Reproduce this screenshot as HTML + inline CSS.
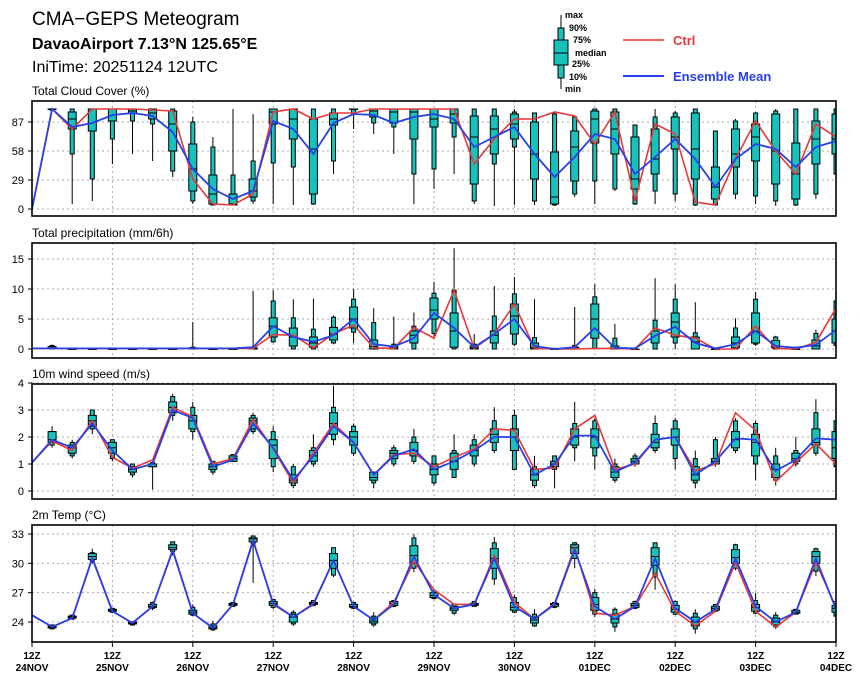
<!DOCTYPE html>
<html><head><meta charset="utf-8"><style>
body{margin:0;background:#fff;width:860px;height:680px;overflow:hidden}
svg{display:block;font-family:"Liberation Sans",sans-serif}
</style></head><body>
<svg id="c" width="860" height="680">
<text x="32" y="25" font-size="19">CMA−GEPS Meteogram</text>
<text x="32" y="49" font-size="16" font-weight="bold">DavaoAirport 7.13°N 125.65°E</text>
<text x="32" y="72" font-size="16">IniTime: 20251124 12UTC</text>
<g font-size="9" font-weight="bold">
<line x1="561" y1="15" x2="561" y2="89" stroke="#000"/>
<rect x="558" y="28" width="6" height="50" fill="#17c2bc" stroke="#000"/>
<rect x="554" y="40" width="14" height="25" fill="#17c2bc" stroke="#000"/>
<line x1="554" y1="53" x2="568" y2="53" stroke="#000"/>
<text x="565" y="18">max</text><text x="569" y="31">90%</text><text x="573" y="43">75%</text>
<text x="575" y="56">median</text><text x="572" y="67">25%</text><text x="569" y="80">10%</text><text x="565" y="92">min</text>
</g>
<line x1="623" y1="40" x2="664" y2="40" stroke="#e83838" stroke-width="1.5"/>
<text x="673" y="45" font-size="13" font-weight="bold" fill="#e83838">Ctrl</text>
<line x1="623" y1="76" x2="664" y2="76" stroke="#2840e8" stroke-width="2"/>
<text x="673" y="81" font-size="13" font-weight="bold" fill="#2840e8">Ensemble Mean</text>
</svg>
<script>
// ===== data =====
const dayLabels=["24NOV","25NOV","26NOV","27NOV","28NOV","29NOV","30NOV","01DEC","02DEC","03DEC","04DEC"];
const cloudTicks=[0,29,58,87];
const precipTicks=[0,5,10,15];
const windTicks=[0,1,2,3,4];
const tempTicks=[24,27,30,33];

const cloudMean=[0,100,82,86,94,96,93,77,40,20,10,18,88,80,55,86,95,94,86,92,95,90,62,72,82,55,32,52,75,70,35,52,70,50,22,50,65,60,42,62,68];
const cloudCtrl=[0,100,80,100,100,100,99,98,30,5,4,15,97,100,90,96,96,100,100,100,100,100,45,70,90,90,97,93,65,97,8,85,75,7,4,50,88,58,35,85,72];
const cloudBox=[null,[98,99,100,100,100,100,100],[5,55,80,90,97,100,100],[8,30,78,100,100,100,100],[45,70,88,100,100,100,100],[55,88,96,98,100,100,100],[48,85,90,96,100,100,100],[32,38,58,85,98,100,100],[5,8,18,40,65,87,92],[4,4,5,15,34,62,72],[4,4,4,5,15,34,100],[5,8,12,18,30,48,95],[5,46,85,97,100,100,100],[4,42,70,90,100,100,100],[4,5,15,60,90,100,100],[35,48,84,90,96,100,100],[80,95,100,100,100,100,100],[75,86,92,98,100,100,100],[55,82,86,97,100,100,100],[5,35,70,97,100,100,100],[20,40,82,90,100,100,100],[35,72,86,95,100,100,100],[5,8,25,72,93,100,100],[3,45,55,80,93,100,100],[4,62,70,85,95,97,100],[4,8,30,55,87,96,96],[3,4,5,12,57,95,97],[12,15,28,62,78,92,93],[5,28,66,90,98,100,100],[18,20,55,80,97,100,100],[4,5,20,30,72,84,84],[5,18,35,50,80,92,100],[8,15,60,72,92,96,98],[3,4,30,60,96,100,100],[3,4,10,22,42,78,78],[10,15,42,55,80,88,90],[5,13,48,72,85,96,97],[3,8,25,58,95,98,100],[3,4,10,35,66,100,100],[10,15,45,70,88,100,100],[35,35,55,70,95,100,100]];

const precipMean=[0.1,0.1,0.1,0.1,0.1,0.1,0.1,0.1,0.1,0.1,0.1,0.3,3.8,2,1.2,2.3,5,0.8,0.4,1.8,6,3.5,0.3,2.5,5,0.5,0,0.3,3.5,0.2,0.1,2.2,3.7,1,0.1,0.8,3,0.5,0.2,0.7,3.2];
const precipCtrl=[0.1,0.1,0.1,0.1,0.1,0.1,0.1,0.1,0.1,0.1,0.1,0.1,2.4,2.3,0.2,2.5,4,0.2,0.1,3.6,1.8,9.8,0.1,2.5,7.5,0.1,0,0,0.1,0.1,0,3.5,2.3,1.8,0,0,3.8,0.1,0,1.1,6.8];
const precipBox=[null,[0,0,0.1,0.2,0.4,0.6,0.7],[0,0,0,0,0,0,0.05],[0,0,0,0,0,0,0.05],[0,0,0,0,0,0,0.05],[0,0,0,0,0,0,0.05],[0,0,0,0,0,0,0.05],[0,0,0,0,0,0,0.05],[0,0,0,0.1,0.2,0.3,4.5],[0,0,0,0,0,0,0.05],[0,0,0,0,0,0,0.05],[0,0,0,0.1,0.2,0.3,9.7],[1,1.2,2,3.8,5.2,8,9.8],[0,0,0.5,2,3.5,5.2,8.3],[0,0,0.3,1,2,3.3,8.4],[0.8,1,1.5,2.5,3.6,5.3,5.6],[1,2.8,3.5,5,7,8.3,10],[0,0,0,0.4,1.5,4.4,6.8],[0,0,0,0.3,0.5,0.8,5.4],[0,0,1,2.3,3,3.8,6.1],[1.8,2.6,5,6.5,8.5,9.3,11.2],[0,0,0.3,3,6,9.8,16.8],[0,0,0,0.2,0.5,0.8,2.5],[0,0,1,2.3,3,5.5,10.5],[0.5,0.8,2.5,5.5,7.5,9.2,12],[0,0,0,0.2,1,1.9,8.3],[0,0,0,0,0,0.1,0.2],[0,0,0,0,0.3,0.6,7],[0,0.1,1.8,5,7.5,8.7,10.8],[0,0,0,0,0.5,1.8,4.2],[0,0,0,0,0,0,0.1],[0,0,1,1,3,4.8,11.8],[0,1,2,4.5,6,8.3,10.8],[0,0,0,1.2,2,2.7,7.8],[0,0,0,0,0,0,0.1],[0,0,0.2,1,2,3.5,5.1],[0.5,0.8,1,3,6,8.3,9.5],[0,0,0.2,0.5,1.4,2,2.2],[0,0,0,0,0,0.3,0.4],[0,0,0,0.5,1.5,2.6,3.2],[0,0.6,1,3,5,8,8]];

const windMean=[1.05,1.9,1.6,2.5,1.5,0.8,1.0,3.0,2.7,0.9,1.15,2.5,1.6,0.4,1.3,2.4,1.8,0.6,1.3,1.55,0.8,1.1,1.5,2.0,2.0,0.6,1.0,2.05,2.05,0.7,1.05,1.9,2.0,0.6,1.1,1.95,1.9,0.75,1.15,1.95,1.9];
const windCtrl=[1.05,1.85,1.5,2.6,1.25,0.85,1.15,3.1,2.75,1.0,1.2,2.65,1.55,0.3,1.4,2.5,1.8,0.6,1.35,1.4,0.9,1.25,1.55,2.3,2.25,0.8,0.85,2.3,2.8,0.8,1.0,1.9,2.0,0.75,1.0,2.9,2.25,0.35,1.05,1.75,1.0];
const windBox=[null,[1.6,1.7,1.8,1.9,2.2,2.2,2.4],[1.2,1.3,1.4,1.6,1.7,1.8,1.9],[2.1,2.3,2.4,2.6,2.8,3.0,3.0],[1.1,1.2,1.4,1.6,1.8,1.9,1.9],[0.5,0.6,0.7,0.8,0.9,1.0,1.0],[0.05,0.9,0.9,1.0,1.0,1.05,1.1],[2.6,2.8,2.9,3.1,3.3,3.5,3.6],[1.9,2.2,2.3,2.6,2.8,3.1,3.3],[0.6,0.7,0.8,0.9,1.0,1.1,1.1],[1.1,1.1,1.1,1.2,1.3,1.35,1.35],[2.1,2.2,2.3,2.6,2.7,2.8,2.9],[0.7,0.9,1.2,1.7,1.9,2.2,2.4],[0.1,0.2,0.3,0.4,0.6,0.9,1.0],[0.9,1.0,1.1,1.3,1.5,1.6,2.1],[1.7,1.9,2.1,2.5,2.9,3.1,3.9],[1.3,1.4,1.7,2.0,2.2,2.4,2.5],[0.1,0.3,0.4,0.5,0.7,0.7,0.7],[0.9,1.0,1.2,1.4,1.5,1.6,1.7],[1.0,1.1,1.3,1.5,1.8,2.0,2.3],[0.2,0.3,0.6,0.8,1.0,1.3,1.3],[0.5,0.5,0.8,1.1,1.4,1.5,2.1],[0.9,1.0,1.3,1.5,1.7,1.9,2.1],[1.4,1.5,1.8,2.1,2.3,2.6,3.1],[0.8,0.8,1.5,2.0,2.3,2.8,3.0],[0.1,0.2,0.4,0.6,0.8,0.9,1.3],[0.1,0.8,0.9,1.0,1.1,1.3,1.3],[1.1,1.6,1.7,2.0,2.3,2.5,3.3],[0.8,1.3,1.6,2.0,2.3,2.6,2.7],[0.3,0.4,0.5,0.7,0.9,1.0,1.2],[0.9,1.0,1.0,1.1,1.2,1.3,1.4],[1.4,1.5,1.6,1.8,2.1,2.5,2.8],[0.8,1.2,1.7,2.0,2.3,2.6,2.7],[0.1,0.3,0.4,0.6,0.9,1.2,1.5],[0.9,1.0,1.0,1.1,1.2,1.9,2.0],[1.4,1.5,1.6,1.9,2.2,2.6,2.7],[0.4,1.0,1.3,1.8,2.1,2.5,2.6],[0.2,0.4,0.5,0.8,1.0,1.3,1.6],[0.9,1.0,1.1,1.2,1.4,1.5,2.0],[1.3,1.4,1.7,1.8,2.3,2.9,3.4],[0.9,0.9,1.2,1.6,2.2,2.6,2.6]];

const tempMean=[24.7,23.5,24.4,30.5,25.1,23.9,25.6,31.3,24.9,23.4,25.8,32.3,25.9,24.5,25.8,30.3,25.6,24.2,25.8,30.7,26.8,25.4,25.8,30.5,25.6,24.3,25.8,31.4,25.6,24.3,25.6,30.5,25.4,24.0,25.3,30.5,25.6,24.0,25.0,30.5,25.3];
const tempCtrl=[24.7,23.5,24.4,30.6,25.1,23.9,25.6,31.4,24.9,23.4,25.8,32.4,25.8,24.5,25.9,30.3,25.6,24.2,26.0,30.2,27.3,25.8,25.8,30.8,26.0,24.3,25.9,31.6,24.9,24.7,25.6,29.0,25.1,23.6,25.1,30.1,25.1,23.5,25.0,30.1,25.5];
const tempBox=[null,[23.3,23.3,23.4,23.5,23.6,23.7,23.7],[24.2,24.3,24.4,24.5,24.6,24.7,24.8],[30.0,30.2,30.4,30.7,31.0,31.1,31.5],[24.9,25.0,25.1,25.2,25.3,25.4,25.4],[23.6,23.7,23.8,23.9,24.0,24.0,24.1],[25.2,25.4,25.5,25.6,25.8,26.0,26.1],[30.8,31.2,31.4,31.6,31.9,32.2,32.2],[24.6,24.7,24.8,25.0,25.2,25.5,25.8],[23.1,23.2,23.3,23.4,23.6,23.8,24.1],[25.6,25.6,25.7,25.8,25.9,26.0,26.0],[28.0,32.0,32.2,32.5,32.6,32.8,32.8],[25.3,25.5,25.7,25.9,26.1,26.3,26.3],[23.6,23.8,24.0,24.5,24.8,25.0,25.2],[25.6,25.7,25.8,25.9,26.0,26.2,26.2],[28.6,28.8,29.5,30.3,31.0,31.6,31.6],[25.3,25.4,25.5,25.6,25.8,26.0,26.0],[23.5,23.7,23.9,24.1,24.4,24.6,25.0],[25.5,25.6,25.7,25.9,26.1,26.2,26.2],[29.1,29.5,30.0,30.8,31.8,32.6,33.0],[26.3,26.4,26.5,26.7,27.0,27.2,27.3],[24.7,24.9,25.2,25.4,25.6,25.8,25.9],[25.6,25.6,25.7,25.8,25.9,26.1,26.1],[27.8,28.4,29.5,30.5,31.5,32.1,32.7],[24.9,25.0,25.2,25.5,26.0,26.5,26.8],[23.5,23.6,23.9,24.2,24.5,24.8,25.3],[25.4,25.5,25.6,25.8,25.9,26.0,26.0],[29.5,30.5,31.0,31.6,31.9,32.1,32.2],[24.5,24.8,25.2,25.8,26.5,27.0,27.4],[23.0,23.5,23.9,24.3,24.8,25.3,25.5],[25.3,25.4,25.5,25.7,25.9,26.1,26.2],[27.3,28.6,29.8,30.7,31.6,32.1,32.1],[24.7,24.8,25.0,25.3,25.7,26.1,26.2],[22.8,23.3,23.6,24.0,24.5,24.9,25.3],[25.0,25.1,25.2,25.4,25.6,25.8,25.8],[29.3,29.5,30.0,30.6,31.4,31.9,32.0],[24.8,24.9,25.1,25.5,25.8,26.2,27.0],[23.3,23.5,23.7,24.0,24.4,24.7,25.0],[24.8,24.8,24.9,25.0,25.2,25.3,25.3],[28.7,29.2,30.0,30.7,31.2,31.5,31.6],[24.5,24.6,25.0,25.4,25.7,26.1,26.1]];

// ===== drawing =====
const svg=document.getElementById('c');
const NS='http://www.w3.org/2000/svg';
const X0=32,X1=836,NSTEP=40;
function xs(i){return X0+(X1-X0)*i/NSTEP;}
function mk(tag,attrs,parent){const e=document.createElementNS(NS,tag);for(const k in attrs)e.setAttribute(k,attrs[k]);(parent||svg).appendChild(e);return e;}

const panels=[
 {key:'cloud',title:'Total Cloud Cover (%)',top:101,bot:216,v0:0,y0:209,v1:87,y1:122,ticks:cloudTicks,mean:cloudMean,ctrl:cloudCtrl,box:cloudBox},
 {key:'precip',title:'Total precipitation (mm/6h)',top:243,bot:358,v0:0,y0:349,v1:15,y1:259,ticks:precipTicks,mean:precipMean,ctrl:precipCtrl,box:precipBox},
 {key:'wind',title:'10m wind speed (m/s)',top:384,bot:499,v0:0,y0:491,v1:4,y1:383,ticks:windTicks,mean:windMean,ctrl:windCtrl,box:windBox},
 {key:'temp',title:'2m Temp (°C)',top:525,bot:642,v0:24,y0:622,v1:33,y1:534,ticks:tempTicks,mean:tempMean,ctrl:tempCtrl,box:tempBox}
];

panels.forEach(p=>{
 const ys=v=>p.y0+(v-p.v0)*(p.y1-p.y0)/(p.v1-p.v0);
 const g=mk('g',{});
 
 
 const t=mk('text',{x:X0,y:p.top-6,'font-size':12},g);
 t.textContent=p.title;
 
 
 dayLabels.forEach((d,k)=>{
  if(k===0||k===dayLabels.length-1)return;
  const gl=mk('line',{x1:xs(k*4),x2:xs(k*4),y1:p.top,y2:p.bot,stroke:'#aaa','stroke-dasharray':'2,3','stroke-width':1},g);
  
  
 });
 p.ticks.forEach(v=>{
  const y=ys(v);
  const gl=mk('line',{x1:X0,x2:X1,y1:y,y2:y,stroke:'#aaa','stroke-dasharray':'2,3','stroke-width':1},g);
  
  
  mk('line',{x1:X0-4,x2:X0,y1:y,y2:y,stroke:'#000'},g);
  const tl=mk('text',{x:X0-8,y:y+4,'font-size':11,'text-anchor':'end'},g);
  tl.textContent=v;
  
  
 });
 const cp=mk('clipPath',{id:'clip-'+p.key},g);
 mk('rect',{x:X0,y:p.top,width:X1-X0,height:p.bot-p.top},cp);
 const dg=mk('g',{'clip-path':'url(#clip-'+p.key+')'},g);
 p.box.forEach((b,i)=>{
  if(!b)return;
  const x=xs(i);
  const bg=mk('g',{},dg);
  
  
  mk('line',{x1:x,x2:x,y1:ys(b[0]),y2:ys(b[6]),stroke:'#000','stroke-width':1},bg);
  const a=ys(b[5]),c=ys(b[1]);
  mk('rect',{x:x-2,y:a,width:4,height:Math.max(c-a,0.5),fill:'#17c2bc',stroke:'#000','stroke-width':1},bg);
  const a2=ys(b[4]),c2=ys(b[2]);
  mk('rect',{x:x-4,y:a2,width:8,height:Math.max(c2-a2,0.5),fill:'#17c2bc',stroke:'#000','stroke-width':1},bg);
  mk('line',{x1:x-4,x2:x+4,y1:ys(b[3]),y2:ys(b[3]),stroke:'#000','stroke-width':1},bg);
 });
 const pts=a=>a.map((v,i)=>xs(i).toFixed(1)+','+ys(v).toFixed(1)).join(' ');
 const lc=mk('polyline',{points:pts(p.ctrl),fill:'none',stroke:'#e83838','stroke-width':1.6},dg);
 
 
 const lm=mk('polyline',{points:pts(p.mean),fill:'none',stroke:'#2840e8','stroke-width':1.8},dg);
 
 
 const fr=mk('rect',{x:X0,y:p.top,width:X1-X0,height:p.bot-p.top,fill:'none',stroke:'#000','stroke-width':1.6},g);
 
 
});
dayLabels.forEach((d,k)=>{
 const x=xs(k*4);
 mk('line',{x1:x,x2:x,y1:642,y2:647,stroke:'#000'});
 const a=mk('text',{x:x,y:659,'font-size':10,'font-weight':'bold','text-anchor':'middle'});
 a.textContent='12Z';
 
 
 const b=mk('text',{x:x,y:671,'font-size':10,'font-weight':'bold','text-anchor':'middle'});
 b.textContent=d;
 
 
});
</script>
</body></html>
